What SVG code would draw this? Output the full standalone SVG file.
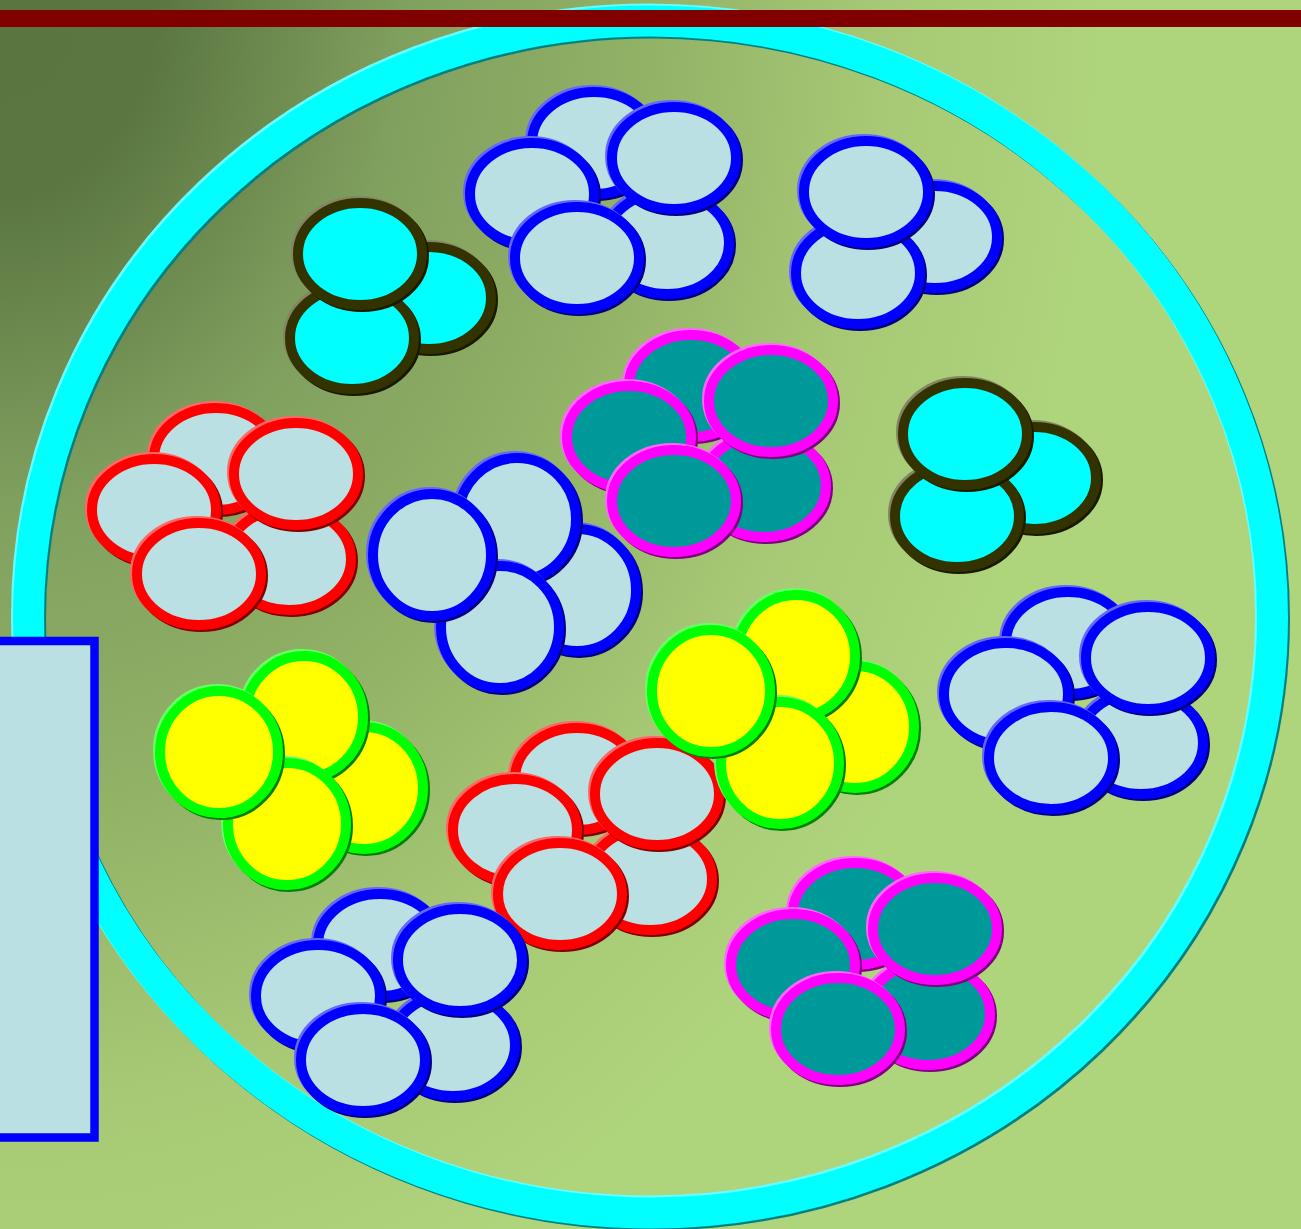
<svg xmlns="http://www.w3.org/2000/svg" width="1301" height="1229" viewBox="0 0 1301 1229">
<defs>
<radialGradient id="bg" gradientUnits="userSpaceOnUse" cx="0" cy="0" r="1300" gradientTransform="scale(1,1.25)">
<stop offset="0" stop-color="#5a7540"/>
<stop offset="0.12" stop-color="#5b7641"/>
<stop offset="0.31" stop-color="#80a05f"/>
<stop offset="0.5" stop-color="#92b266"/>
<stop offset="0.68" stop-color="#a7c975"/>
<stop offset="0.85" stop-color="#aed47c"/>
</radialGradient>
<filter id="bv" x="-10%" y="-10%" width="120%" height="120%" color-interpolation-filters="sRGB">
<feOffset in="SourceGraphic" dx="-1.6" dy="-1.6" result="a"/>
<feComponentTransfer in="a" result="l">
<feFuncR type="linear" slope="0.6" intercept="0.4"/>
<feFuncG type="linear" slope="0.6" intercept="0.4"/>
<feFuncB type="linear" slope="0.6" intercept="0.4"/>
</feComponentTransfer>
<feOffset in="SourceGraphic" dx="2" dy="2" result="b"/>
<feComponentTransfer in="b" result="d">
<feFuncR type="linear" slope="0.5"/>
<feFuncG type="linear" slope="0.5"/>
<feFuncB type="linear" slope="0.5"/>
</feComponentTransfer>
<feMerge><feMergeNode in="d"/><feMergeNode in="l"/><feMergeNode in="SourceGraphic"/></feMerge>
</filter>
<style>
ellipse{stroke-width:10;filter:url(#bv)}
.b{fill:#bbe0e3;stroke:#0000ff}
.r{fill:#bbe0e3;stroke:#ff0000}
.m{fill:#009999;stroke:#ff00ff}
.y{fill:#ffff00;stroke:#00ff00}
.c{fill:#00ffff;stroke:#333300}
.ring{fill:none;stroke:#00ffff;stroke-width:31;filter:url(#bv)}
</style>
</defs>
<rect id="background" x="0" y="0" width="1301" height="1229" fill="url(#bg)"/>
<ellipse id="dish" class="ring" cx="650.5" cy="617" rx="622" ry="596"/>
<rect id="topbar" x="0" y="10" width="1301" height="17" fill="#800000"/>

<!-- five-cell clusters: back-top, right-lower, left, bottom, top-right -->
<g id="cluster-blue-top" class="b" transform="translate(594,143)">
<ellipse cx="0" cy="0" rx="62" ry="51"/><ellipse cx="73" cy="100" rx="62" ry="51"/><ellipse cx="-62" cy="51" rx="62" ry="51"/><ellipse cx="-17" cy="115" rx="62" ry="51"/><ellipse cx="80" cy="15" rx="62" ry="51"/>
</g>
<g id="cluster-magenta-center" class="m" transform="translate(691,386)">
<ellipse cx="0" cy="0" rx="62" ry="51"/><ellipse cx="73" cy="100" rx="62" ry="51"/><ellipse cx="-62" cy="51" rx="62" ry="51"/><ellipse cx="-17" cy="115" rx="62" ry="51"/><ellipse cx="80" cy="15" rx="62" ry="51"/>
</g>
<g id="cluster-red-left" class="r" transform="translate(216,459)">
<ellipse cx="0" cy="0" rx="62" ry="51"/><ellipse cx="73" cy="100" rx="62" ry="51"/><ellipse cx="-62" cy="51" rx="62" ry="51"/><ellipse cx="-17" cy="115" rx="62" ry="51"/><ellipse cx="80" cy="15" rx="62" ry="51"/>
</g>
<g id="cluster-red-center" class="r" transform="translate(577,779)">
<ellipse cx="0" cy="0" rx="62" ry="51"/><ellipse cx="73" cy="100" rx="62" ry="51"/><ellipse cx="-62" cy="51" rx="62" ry="51"/><ellipse cx="-17" cy="115" rx="62" ry="51"/><ellipse cx="80" cy="15" rx="62" ry="51"/>
</g>
<g id="cluster-blue-right" class="b" transform="translate(1068,643)">
<ellipse cx="0" cy="0" rx="62" ry="51"/><ellipse cx="73" cy="100" rx="62" ry="51"/><ellipse cx="-62" cy="51" rx="62" ry="51"/><ellipse cx="-17" cy="115" rx="62" ry="51"/><ellipse cx="80" cy="15" rx="62" ry="51"/>
</g>
<g id="cluster-blue-bottom" class="b" transform="translate(380,945)">
<ellipse cx="0" cy="0" rx="62" ry="51"/><ellipse cx="73" cy="100" rx="62" ry="51"/><ellipse cx="-62" cy="51" rx="62" ry="51"/><ellipse cx="-17" cy="115" rx="62" ry="51"/><ellipse cx="80" cy="15" rx="62" ry="51"/>
</g>
<g id="cluster-magenta-bottom" class="m" transform="translate(855,914)">
<ellipse cx="0" cy="0" rx="62" ry="51"/><ellipse cx="73" cy="100" rx="62" ry="51"/><ellipse cx="-62" cy="51" rx="62" ry="51"/><ellipse cx="-17" cy="115" rx="62" ry="51"/><ellipse cx="80" cy="15" rx="62" ry="51"/>
</g>

<!-- three-cell clusters: right, bottom-left, top -->
<g id="cluster-cyan-top" class="c" transform="translate(360,254)">
<ellipse cx="69" cy="44" rx="62" ry="51"/><ellipse cx="-8" cy="84" rx="62" ry="51"/><ellipse cx="0" cy="0" rx="62" ry="51"/>
</g>
<g id="cluster-cyan-right" class="c" transform="translate(965,434)">
<ellipse cx="69" cy="44" rx="62" ry="51"/><ellipse cx="-8" cy="82" rx="62" ry="51"/><ellipse cx="0" cy="0" rx="62" ry="51"/>
</g>
<g id="cluster-blue-topright" class="b" transform="translate(866,192)">
<ellipse cx="69" cy="45" rx="62" ry="51"/><ellipse cx="-8" cy="81" rx="62" ry="51"/><ellipse cx="0" cy="0" rx="62" ry="51"/>
</g>

<!-- four-cell clusters: right, top, bottom, left -->
<g id="cluster-blue-middle" class="b" transform="translate(517,519)">
<ellipse cx="60" cy="71" rx="59" ry="61"/><ellipse cx="0" cy="0" rx="59" ry="61"/><ellipse cx="-17" cy="108" rx="59" ry="61"/><ellipse cx="-85" cy="36" rx="59" ry="61"/>
</g>
<g id="cluster-yellow-left" class="y" transform="translate(304,717)">
<ellipse cx="60" cy="71" rx="59" ry="61"/><ellipse cx="0" cy="0" rx="59" ry="61"/><ellipse cx="-17" cy="107" rx="59" ry="61"/><ellipse cx="-85" cy="35" rx="59" ry="61"/>
</g>
<g id="cluster-yellow-center" class="y" transform="translate(796,656)">
<ellipse cx="59" cy="71" rx="59" ry="61"/><ellipse cx="0" cy="0" rx="59" ry="61"/><ellipse cx="-16" cy="107" rx="59" ry="61"/><ellipse cx="-85" cy="35" rx="59" ry="61"/>
</g>

<rect id="side-panel" x="-10" y="641" width="104.5" height="496.5" fill="#bbe0e3" stroke="#0000ff" stroke-width="8.5"/>
</svg>
